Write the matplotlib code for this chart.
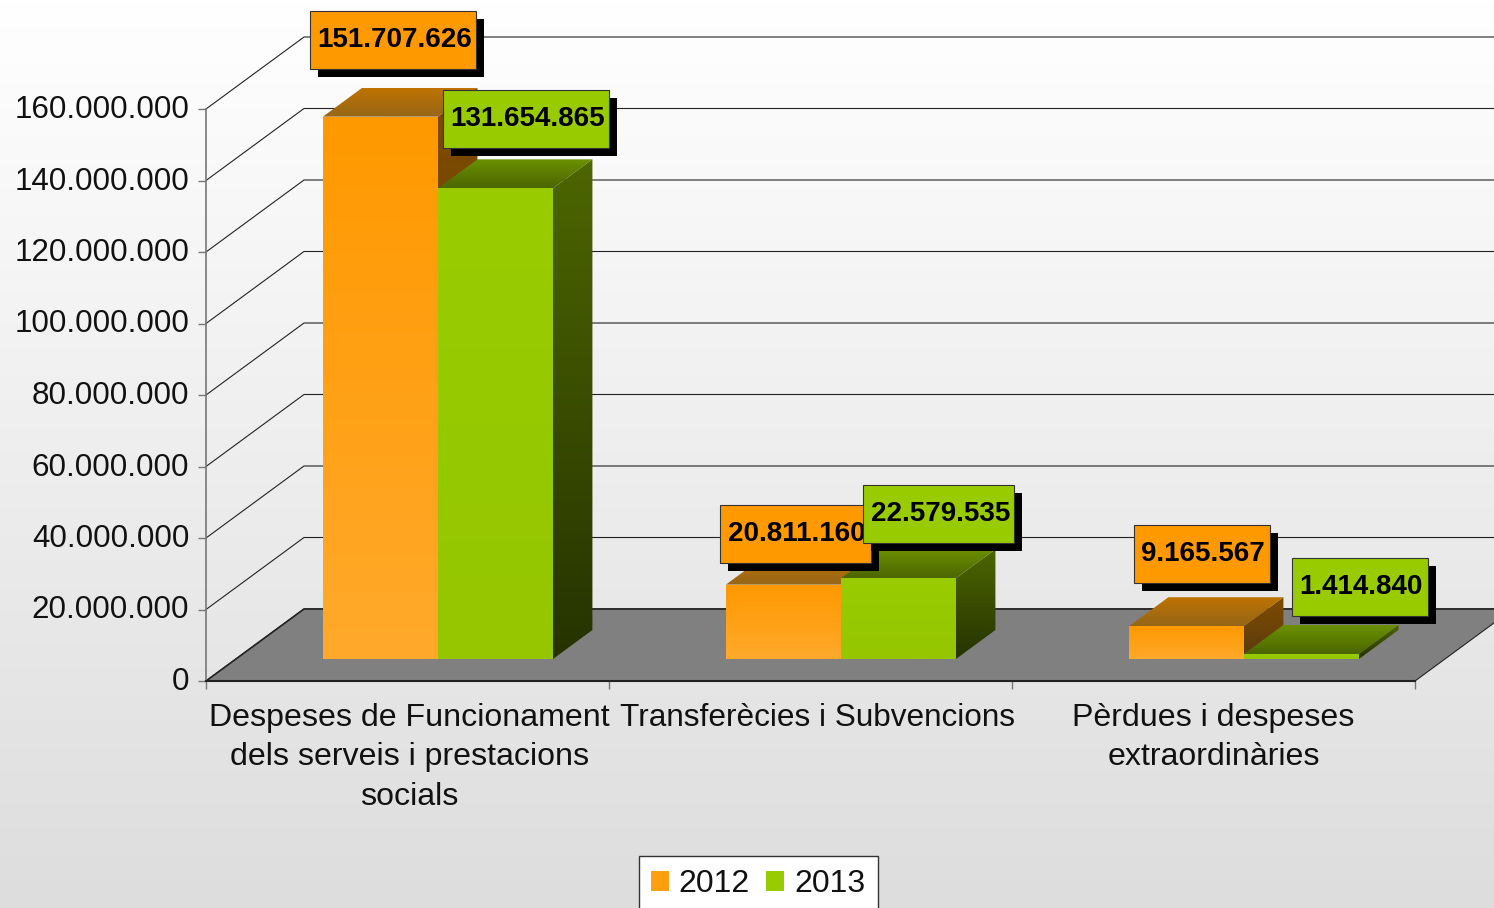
import matplotlib
matplotlib.use("Agg")
import matplotlib.pyplot as plt
import numpy as np
from matplotlib.colors import LinearSegmentedColormap, to_rgb
from matplotlib.patches import Patch, Polygon, Rectangle
from matplotlib.ticker import FuncFormatter
from matplotlib.transforms import Affine2D, IdentityTransform

plt.rcParams['font.family'] = ['Liberation Sans', 'DejaVu Sans']

categories = ["Despeses de Funcionament\ndels serveis i prestacions\nsocials",
              "Transferècies i Subvencions",
              "Pèrdues i despeses\nextraordinàries"]
series_names = ["2012", "2013"]
values_2012 = [151707626, 20811160, 9165567]
values_2013 = [131654865, 22579535, 1414840]
y_ticks = [0, 20000000, 40000000, 60000000, 80000000, 100000000, 120000000, 140000000, 160000000]

W, H = 1494, 908
DEPTH_X = 98 / 403
DEPTH_Y = 72 / 572 * 160e6
BAR_W = 115 / 403
BAR_SHIFT = 0.5 / 403
BAR_FRONT = 22 / 72
BAR_BACK = 51 / 72

ORANGE = {"front": ("#FF9900", "#FFA92B"), "top": ("#BF7300", "#966618"),
          "side": ("#7F4C00", "#5A3A10"), "flat": "#FF9F10", "label": "#FF9900"}
GREEN = {"front": ("#99CC00", "#95C600"), "top": ("#6B9100", "#4C6600"),
         "side": ("#4C6600", "#263300"), "flat": "#99CC00", "label": "#99CC00"}


def pt(x, v, d):
    return (x + d * DEPTH_X, v + d * DEPTH_Y)


def gradient_poly(ax, verts, top_col, bot_col, zorder):
    """Fill a polygon with a vertical gradient."""
    verts = np.array(verts)
    steps = np.linspace(0, 1, 64)[:, None, None]
    img = (1 - steps) * np.array(to_rgb(top_col))[None, None, :] + steps * np.array(to_rgb(bot_col))[None, None, :]
    extent = (verts[:, 0].min(), verts[:, 0].max(), verts[:, 1].min(), verts[:, 1].max())
    im = ax.imshow(img, extent=extent, origin="upper", aspect="auto", zorder=zorder, interpolation="bilinear")
    im.set_clip_box(ax.figure.bbox)
    im.set_clip_path(Polygon(verts, closed=True, transform=ax.transData))


def draw_bar(ax, x0, value, colors, zorder):
    x1 = x0 + BAR_W
    gradient_poly(ax, [pt(x1, 0, BAR_FRONT), pt(x1, 0, BAR_BACK), pt(x1, value, BAR_BACK), pt(x1, value, BAR_FRONT)],
                  *colors["side"], zorder)
    gradient_poly(ax, [pt(x0, value, BAR_FRONT), pt(x1, value, BAR_FRONT), pt(x1, value, BAR_BACK), pt(x0, value, BAR_BACK)],
                  *colors["top"], zorder + 0.1)
    gradient_poly(ax, [pt(x0, 0, BAR_FRONT), pt(x1, 0, BAR_FRONT), pt(x1, value, BAR_FRONT), pt(x0, value, BAR_FRONT)],
                  *colors["front"], zorder + 0.2)


def draw_label(ax, x, value, text, color, dx, dy, width, zorder):
    """Value box placed dx right and dy up in pixels from the top centre of the bar front."""
    px, py = ax.transData.transform(pt(x, value, BAR_FRONT))
    cx, cy = px + dx, py + dy
    left, bottom = cx - width / 2, cy - 29
    ax.add_patch(Rectangle((left + 8, bottom - 8), width, 58, transform=IdentityTransform(),
                           facecolor="black", edgecolor="none", zorder=zorder, clip_on=False))
    ax.add_patch(Rectangle((left, bottom), width, 58, transform=IdentityTransform(),
                           facecolor=color, edgecolor="#333333", linewidth=0.8, zorder=zorder + 0.1, clip_on=False))
    ax.text(left + 7.5, cy + 3, text, transform=IdentityTransform(), fontsize=20, fontweight="bold",
            ha="left", va="center_baseline", color="black", zorder=zorder + 0.2, clip_on=False)


fig = plt.figure(figsize=(W / 100, H / 100), dpi=100)

bg = fig.add_axes([0, 0, 1, 1], zorder=0)
bg.imshow(np.linspace(0, 1, 256)[:, None], cmap=LinearSegmentedColormap.from_list("bg", ["#FFFFFF", "#DDDDDD"]),
          aspect="auto")
bg.axis("off")

ax = fig.add_axes([206 / W, (H - 681) / H, 1209 / W, 572 / H], zorder=1)
ax.patch.set_visible(False)
ax.set_xlim(0, 3)
ax.set_ylim(0, 160e6)
ax.set_autoscale_on(False)

# back wall grid lines
for t in y_ticks:
    ax.plot([0, DEPTH_X, 3.3], [t, t + DEPTH_Y, t + DEPTH_Y], color="#222222", lw=0.8, clip_on=False, zorder=1)

# floor
ax.add_patch(Polygon([pt(0, 0, 0), pt(0, 0, 1), pt(3, 0, 1), pt(3, 0, 0)], closed=True,
                     facecolor="#808080", edgecolor="none", clip_on=False, zorder=2))
ax.plot([0, DEPTH_X, 3.3], [0, DEPTH_Y, DEPTH_Y], color="#222222", lw=1.2, clip_on=False, zorder=3)
ax.plot([3, 3 + DEPTH_X], [0, DEPTH_Y], color="#222222", lw=0.8, clip_on=False, zorder=3)

z = 4
for i in range(len(categories)):
    center = i + 0.5 + BAR_SHIFT
    draw_bar(ax, center - BAR_W, values_2012[i], ORANGE, z)
    draw_bar(ax, center, values_2013[i], GREEN, z + 1)
    z += 2

ax.set_xlim(0, 3)
ax.set_ylim(0, 160e6)

fmt = lambda v: f"{int(v):,}".replace(",", ".")

# data labels, offsets in pixels
dx_2012 = [13, 13, 16]
dy_2012 = [77, 51, 72]
w_2012 = [166, 151, 136]
dx_2013 = [31, 41, 59]
dy_2013 = [69, 64, 67]
w_2013 = [166, 151, 136]
z = 20
for i in range(len(categories)):
    center = i + 0.5
    draw_label(ax, center - BAR_W / 2, values_2012[i], fmt(values_2012[i]), ORANGE["label"], dx_2012[i], dy_2012[i], w_2012[i], z)
    draw_label(ax, center + BAR_W / 2, values_2013[i], fmt(values_2013[i]), GREEN["label"], dx_2013[i], dy_2013[i], w_2013[i], z + 1)
    z += 2

# axes
for side in ["top", "right"]:
    ax.spines[side].set_visible(False)
ax.spines["left"].set_color("#777777")
ax.spines["left"].set_linewidth(1.2)
ax.spines["left"].set_zorder(3)
ax.spines["bottom"].set_color("#222222")
ax.spines["bottom"].set_linewidth(1.5)
ax.spines["bottom"].set_zorder(3)

ax.set_yticks(y_ticks)
ax.yaxis.set_major_formatter(FuncFormatter(lambda v, _: fmt(v)))
ax.tick_params(axis="y", length=6, width=1, color="#777777", pad=6, labelsize=22.6, labelcolor="#111111")
for lab in ax.get_yticklabels():
    lab.set_transform(lab.get_transform() + Affine2D().translate(0, 2.5))

ax.set_xticks([0.5, 1.5, 2.5])
ax.set_xticklabels(categories, linespacing=1.42)
ax.set_xticks([0, 1, 2, 3], minor=True)
ax.tick_params(axis="x", which="major", length=0, pad=15.5, labelsize=23.1, labelcolor="#111111")
ax.tick_params(axis="x", which="minor", length=6, width=1, color="#777777")
xlabs = ax.get_xticklabels()
xlabs[0].set_transform(xlabs[0].get_transform() + Affine2D().translate(2, 0))
xlabs[1].set_transform(xlabs[1].get_transform() + Affine2D().translate(7.5, 0))
xlabs[1].set_fontsize(22.7)

# legend
ax.add_patch(Rectangle((639, -20), 239, 72, transform=IdentityTransform(), facecolor="white",
                       edgecolor="#333333", linewidth=1, clip_on=False, zorder=30))
handles = [Patch(facecolor=ORANGE["flat"], label=series_names[0]),
           Patch(facecolor=GREEN["flat"], label=series_names[1])]
leg = fig.legend(handles=handles, loc="center left", bbox_to_anchor=(625 / W, (H - 884) / H), ncol=2, frameon=False,
                 fontsize=23, handlelength=0.57, handleheight=0.57, handletextpad=0.31,
                 columnspacing=0.5, borderpad=0.3, labelcolor="#111111")
leg.set_zorder(40)

fig.savefig("out.png", dpi=100)
plt.close(fig)
